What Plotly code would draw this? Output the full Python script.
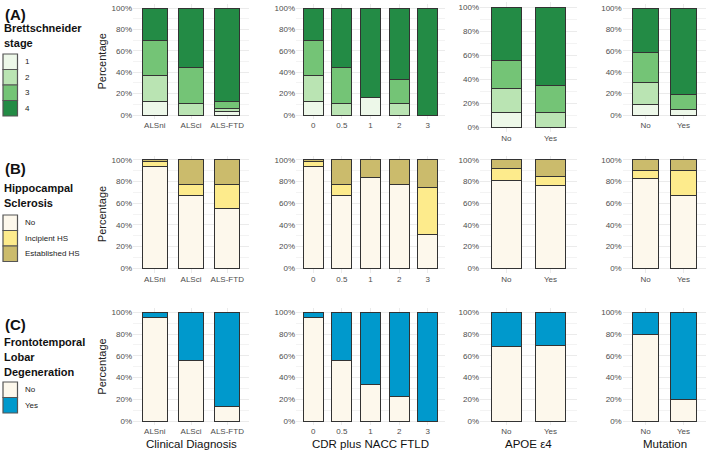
import plotly.graph_objects as go

# categories per column
DX = ["ALSni", "ALSci", "ALS-FTD"]
CDR = ["0", "0.5", "1", "2", "3"]
APOE = ["No", "Yes"]
MUT = ["No", "Yes"]

# y ticks
Y_TICKS = [0, 20, 40, 60, 80, 100]
Y_TICK_TEXT = ["0%", "20%", "40%", "60%", "80%", "100%"]

# (A) Brettschneider stage, % per stage 1..4 (bottom -> top)
STAGE_LABELS = ["1", "2", "3", "4"]
STAGE_DX = [[12.5, 0, 3], [24, 11, 3], [33, 33.5, 6.5], [30.5, 55.5, 87.5]]
STAGE_CDR = [[12.5, 0, 16.7, 0, 0], [24, 11, 0, 11, 0], [33, 33.5, 0, 22, 0], [30.5, 55.5, 83.3, 67, 100]]
STAGE_APOE = [[12.5, 0], [19.5, 11.7], [23.5, 22.7], [44.5, 65.6]]
STAGE_MUT = [[10, 5], [20.5, 0], [28, 14], [41.5, 81]]

# (B) Hippocampal sclerosis
HS_LABELS = ["No", "Incipient HS", "Established HS"]
HS_DX = [[94, 67, 55.4], [4.5, 10.8, 22.1], [1.5, 22.2, 22.5]]
HS_CDR = [[94, 67, 83.7, 77.8, 31.4], [4.5, 10.8, 0, 0, 43.6], [1.5, 22.2, 16.3, 22.2, 25]]
HS_APOE = [[81.2, 76.9], [10.8, 8], [8, 15.1]]
HS_MUT = [[83, 66.8], [7.2, 23.7], [9.8, 9.5]]

# (C) FTLD
FTLD_LABELS = ["No", "Yes"]
FTLD_DX = [[95.1, 55.5, 13.2], [4.9, 44.5, 86.8]]
FTLD_CDR = [[95.1, 55.5, 33.7, 22.4, 0], [4.9, 44.5, 66.3, 77.6, 100]]
FTLD_APOE = [[68.4, 69.3], [31.6, 30.7]]
FTLD_MUT = [[79.4, 19.6], [20.6, 80.4]]

X_TITLES = ["Clinical Diagnosis", "CDR plus NACC FTLD", "APOE \u03b54", "Mutation"]

GREENS = ["#edf8e9", "#bae4b3", "#74c476", "#238b45"]
HS_COLS = ["#fdf8ec", "#fdeb8c", "#cbbb6c"]
FTLD_COLS = ["#fdf8ec", "#0099cc"]

W, H = 709, 452
FONT = "Liberation Sans"

def px_x(p):
    return p / W

def px_y(p):
    return 1 - p / H

def ydom(p0, p100, pad=4):
    s = (p0 - p100) / 100
    return [px_y(p0 + pad * s), px_y(p100 - pad * s)]

col_px = [(133, 249), (296, 445), (480, 577), (622.7, 706.3)]
row_px = [(115, 8), (268.3, 160), (421, 312.3)]

rows = [
    (STAGE_LABELS, GREENS, [STAGE_DX, STAGE_CDR, STAGE_APOE, STAGE_MUT]),
    (HS_LABELS, HS_COLS, [HS_DX, HS_CDR, HS_APOE, HS_MUT]),
    (FTLD_LABELS, FTLD_COLS, [FTLD_DX, FTLD_CDR, FTLD_APOE, FTLD_MUT]),
]
cats = [DX, CDR, APOE, MUT]

fig = go.Figure()
layout = {}
n = 0
for r, (labels, colors, panels) in enumerate(rows):
    for c, series in enumerate(panels):
        n += 1
        xa = "x" if n == 1 else f"x{n}"
        ya = "y" if n == 1 else f"y{n}"
        for lab, col, vals in zip(labels, colors, series):
            fig.add_trace(go.Bar(
                x=cats[c], y=vals, name=lab, xaxis=xa, yaxis=ya,
                width=0.7, showlegend=False,
                marker=dict(color=col, line=dict(color="#333333", width=1)),
            ))
        p0, p100 = row_px[r]
        if r == 0 and c == 2:
            p0, p100 = 127, 7  # this panel sits a bit lower in the original
        layout["xaxis" if n == 1 else f"xaxis{n}"] = dict(
            domain=[px_x(col_px[c][0]), px_x(col_px[c][1])],
            anchor=ya, type="category", range=[-0.6, len(cats[c]) - 0.4],
            showgrid=True, gridcolor="#ebebeb", gridwidth=1,
            ticks="", showline=False, zeroline=False,
            tickfont=dict(size=8, color="#4d4d4d", family=FONT),
        )
        layout["yaxis" if n == 1 else f"yaxis{n}"] = dict(
            domain=ydom(p0, p100), anchor=xa, range=[-4, 104],
            tickmode="array", tickvals=Y_TICKS, ticktext=Y_TICK_TEXT,
            showgrid=True, gridcolor="#ebebeb", gridwidth=1,
            minor=dict(tickvals=[10, 30, 50, 70, 90], showgrid=True, gridcolor="#f3f3f3", gridwidth=0.6),
            zeroline=False, ticks="", showline=False,
            tickfont=dict(size=8, color="#4d4d4d", family=FONT),
        )

annotations = []
shapes = []

def note(text, x, y, size, color="#111111", xanchor="center", angle=0):
    annotations.append(dict(
        text=text, x=px_x(x), y=px_y(y), xref="paper", yref="paper",
        xanchor=xanchor, yanchor="middle", textangle=angle, showarrow=False,
        font=dict(size=size, color=color, family=FONT),
    ))

# y axis titles on first column
for p0, p100 in row_px:
    note("Percentage", 102, (p0 + p100) / 2, 11, "#222222", angle=-90)

# x axis titles under bottom row
for (a, b), t in zip(col_px, X_TITLES):
    note(t, (a + b) / 2, 444, 11.5)

# left hand legends
legend_blocks = [
    ("(A)", 15, ["Brettschneider", "stage"], 28, STAGE_LABELS, GREENS, 54),
    ("(B)", 168, ["Hippocampal", "Sclerosis"], 188, HS_LABELS, HS_COLS, 215),
    ("(C)", 324, ["Frontotemporal", "Lobar", "Degeneration"], 342, FTLD_LABELS, FTLD_COLS, 382),
]
key_h = 15.5
for tag, tag_y, title_lines, title_y, labels, colors, key_top in legend_blocks:
    note(f"<b>{tag}</b>", 3, tag_y, 15, xanchor="left")
    for i, line in enumerate(title_lines):
        note(f"<b>{line}</b>", 2, title_y + 15 * i, 11, xanchor="left")
    for i, (lab, col) in enumerate(zip(labels, colors)):
        top = key_top + key_h * i
        shapes.append(dict(
            type="rect", xref="paper", yref="paper",
            x0=px_x(3), x1=px_x(17.5), y0=px_y(top + key_h), y1=px_y(top),
            fillcolor=col, line=dict(color="#555555", width=1.2),
        ))
        note(lab, 23, top + key_h / 2, 8, "#222222", xanchor="left")

fig.update_layout(
    **layout,
    barmode="stack",
    width=W, height=H,
    margin=dict(l=0, r=0, t=0, b=0),
    paper_bgcolor="white", plot_bgcolor="white",
    font=dict(family=FONT),
    annotations=annotations,
    shapes=shapes,
    bargap=0.3,
    hovermode=False,
)

# the page's default body margin would push the figure 8px off the window
fig.write_html("out.html", config={"displayModeBar": False},
               post_script="document.body.style.margin = '0';")
